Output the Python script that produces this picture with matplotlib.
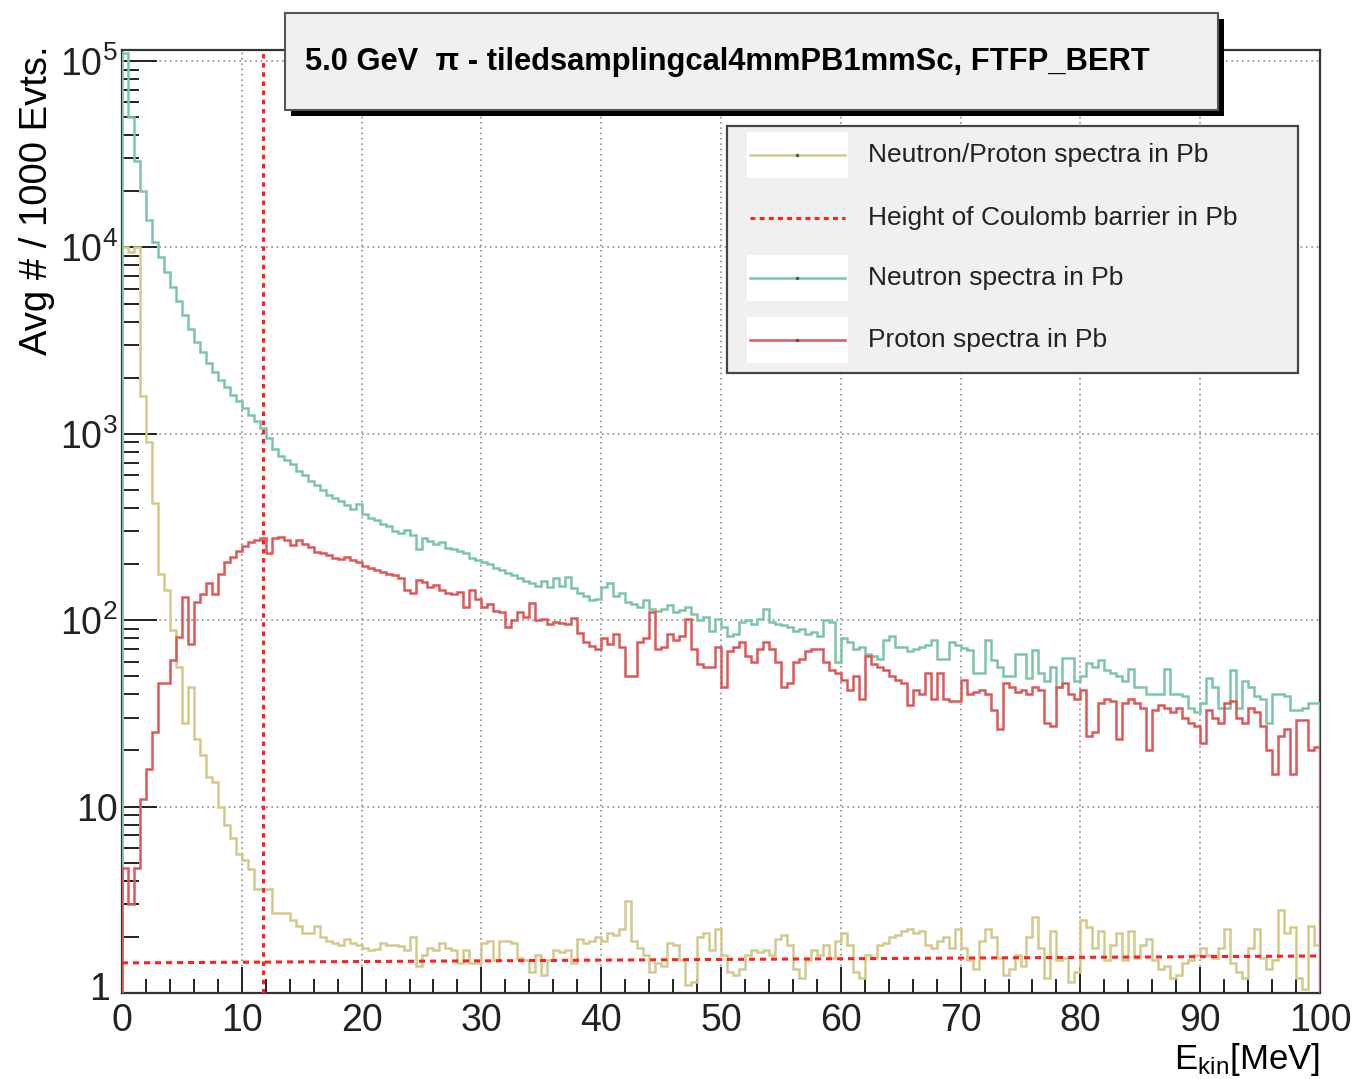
import numpy as np
import matplotlib
matplotlib.use("Agg")
import matplotlib.pyplot as plt
from matplotlib.patches import Rectangle
from matplotlib.lines import Line2D
from matplotlib.transforms import ScaledTranslation

# 0.5 MeV bins from 0 to 100 MeV
bin_lo, bin_hi, bin_w = 0.0, 100.0, 0.5

# neutron / proton spectra (yellow)
ratio = [
    10000, 9500, 10000, 1600, 900, 425, 178, 145, 89, 56,
    28, 44, 23, 19, 14.5, 13.5, 10, 8.0, 6.8, 5.6,
    5.2, 4.6, 3.6, 3.6, 3.6, 2.7, 2.7, 2.7, 2.45, 2.3,
    2.1, 2.1, 2.3, 2.0, 1.9, 1.85, 1.8, 1.95, 1.85, 1.8,
    1.75, 1.7, 1.72, 1.85, 1.8, 1.82, 1.78, 1.7, 2.0, 1.4,
    1.6, 1.75, 1.7, 1.85, 1.75, 1.7, 1.45, 1.7, 1.45, 1.45,
    1.85, 1.9, 1.5, 1.9, 1.9, 1.85, 1.55, 1.5, 1.3, 1.6,
    1.25, 1.5, 1.7, 1.65, 1.7, 1.45, 1.95, 1.85, 1.9, 2.0,
    1.9, 2.1, 2.05, 2.2, 3.1, 1.9, 1.75, 1.6, 1.3, 1.45,
    1.4, 1.85, 1.8, 1.5, 1.1, 1.15, 2.0, 2.1, 1.7, 2.2,
    1.6, 1.3, 1.25, 1.35, 1.6, 1.7, 1.65, 1.7, 1.6, 1.95,
    2.05, 1.8, 1.35, 1.2, 1.5, 1.7, 1.6, 1.8, 1.55, 1.9,
    2.1, 1.8, 1.3, 1.2, 1.6, 1.55, 1.8, 1.85, 2.0, 2.05,
    2.15, 2.2, 2.1, 2.15, 1.8, 1.75, 1.9, 2.0, 1.75, 2.2,
    1.75, 1.5, 1.35, 1.9, 2.2, 2.0, 1.55, 1.25, 1.35, 1.6,
    1.4, 2.0, 2.55, 1.75, 1.2, 2.15, 1.5, 1.55, 1.15, 1.3,
    2.45, 2.25, 1.75, 2.15, 1.5, 1.8, 2.1, 1.5, 2.15, 1.55,
    1.8, 1.95, 1.5, 1.35, 1.4, 1.2, 1.25, 1.45, 1.5, 1.6,
    1.75, 1.6, 1.55, 1.75, 2.2, 1.45, 1.3, 1.2, 1.75, 2.2,
    1.55, 1.35, 1.5, 2.8, 2.1, 2.25, 1.2, 1.05, 2.3, 1.8,
]

# neutron spectra (green)
neutron = [
    110000, 50000, 29000, 20000, 14000, 10700, 8900, 7400, 6150, 5150,
    4350, 3650, 3100, 2750, 2400, 2140, 1950, 1780, 1620, 1500,
    1380, 1260, 1170, 1070, 950, 830, 760, 720, 690, 630,
    600, 560, 530, 500, 470, 450, 435, 415, 395, 420,
    370, 355, 345, 330, 320, 300, 292, 305, 285, 240,
    275, 265, 255, 262, 245, 240, 236, 228, 215, 210,
    205, 200, 190, 186, 180, 175, 168, 163, 158, 152,
    162, 150, 168, 152, 170, 148, 140, 135, 128, 130,
    150, 158, 135, 140, 125, 122, 118, 128, 115, 112,
    115, 120, 110, 113, 118, 108, 100, 104, 88, 102,
    92, 82, 84, 98, 100, 96, 102, 115, 98, 96,
    94, 92, 88, 90, 84, 86, 82, 100, 98, 60,
    80, 76, 70, 72, 66, 64, 62, 78, 82, 72,
    72, 68, 70, 72, 74, 78, 62, 62, 76, 74,
    71, 69, 52, 52, 78, 61, 56, 50, 50, 66,
    66, 49, 69, 52, 47, 56, 44, 63, 63, 47,
    50, 59, 56, 61, 54, 52, 50, 47, 55, 44,
    44, 40, 40, 40, 55, 40, 40, 39, 34, 32,
    36, 49, 44, 34, 34, 54, 34, 47, 44, 39,
    38, 28, 40, 40, 39, 33, 33, 34, 36, 36,
]

# proton spectra (red)
proton = [
    4.7, 3.0, 4.7, 11, 16, 25, 46, 46, 61, 81,
    133, 75, 125, 139, 158, 139, 178, 204, 219, 236,
    250, 262, 270, 275, 229, 275, 278, 270, 252, 268,
    255, 248, 232, 230, 225, 215, 212, 218, 210, 205,
    195, 190, 185, 182, 178, 175, 168, 145, 140, 165,
    160, 150, 155, 145, 140, 138, 142, 118, 145, 130,
    118, 122, 112, 110, 92, 100, 110, 104, 124, 100,
    102, 96, 98, 97, 95, 103, 85, 76, 73, 70,
    80, 75, 84, 72, 50, 50, 76, 80, 110, 70,
    72, 84, 78, 82, 101, 70, 58, 56, 56, 72,
    44, 68, 72, 76, 64, 60, 70, 76, 70, 60,
    44, 46, 60, 62, 68, 70, 70, 60, 54, 52,
    48, 42, 50, 38, 64, 58, 56, 54, 50, 48,
    46, 35, 42, 40, 52, 38, 52, 38, 37, 37,
    48, 40, 41, 42, 40, 33, 26, 46, 44, 41,
    42, 40, 44, 42, 28, 27, 44, 46, 40, 38,
    42, 24, 25, 36, 38, 37, 23, 36, 38, 36,
    34, 20, 33, 35, 34, 32, 34, 30, 28, 27,
    22, 33, 30, 28, 36, 37, 30, 28, 34, 32,
    27, 20, 15, 24, 26, 15, 29, 29, 20, 21,
]

# coulomb barrier marks
barrier_E = 11.8
barrier_line_x = [0, 100]
barrier_line_y = [1.45, 1.58]

title = "5.0 GeV  \u03c0 - tiledsamplingcal4mmPB1mmSc, FTFP_BERT"
labels = ["Neutron/Proton spectra in Pb", "Height of Coulomb barrier in Pb",
          "Neutron spectra in Pb", "Proton spectra in Pb"]

c_ratio = "#d2c98c"
c_neu = "#7cc5a6"
c_pro = "#dd5858"
c_bar = "#ff2020"

plt.rcParams["font.family"] = ["Liberation Sans", "DejaVu Sans"]
plt.rcParams["mathtext.fontset"] = "custom"
plt.rcParams["mathtext.rm"] = "Liberation Sans"
plt.rcParams["mathtext.it"] = "Liberation Sans:italic"
plt.rcParams["mathtext.bf"] = "Liberation Sans:bold"

W, H = 1356, 1079
fx = lambda p: p / W
fy = lambda p: 1 - p / H

fig = plt.figure(figsize=(W / 100, H / 100), dpi=100)
ax = fig.add_axes([fx(122), fy(993), fx(1320) - fx(122), fy(50) - fy(993)])

edges = np.arange(bin_lo, bin_hi + bin_w / 2, bin_w)
ax.stairs(ratio, edges, color=c_ratio, lw=1.8, zorder=3)
ax.stairs(neutron, edges, color=c_neu, lw=1.8, zorder=3)
ax.stairs(proton, edges, color=c_pro, lw=1.8, zorder=4)
ax.plot([barrier_E, barrier_E], [1, 2e5], color=c_bar, lw=2.2,
        linestyle=(0, (1.5, 1.5)), zorder=5)
ax.plot(barrier_line_x, barrier_line_y, color=c_bar, lw=2.2,
        linestyle=(0, (2, 1.6)), zorder=5)

ax.set_yscale("log")
ax.set_xlim(0, 100)
ax.set_ylim(1, 1.146e5)
ax.set_xticks(range(0, 101, 10))
ax.set_xticks(np.arange(0, 101, 2), minor=True)
ax.set_yticks([1, 10, 100, 1e3, 1e4, 1e5])
ax.set_yticklabels(["1", "10", "$10^{2}$", "$10^{3}$", "$10^{4}$", "$10^{5}$"])
ax.set_xticklabels([str(v) for v in range(0, 101, 10)])
ax.tick_params(axis="both", which="both", direction="in", colors="#222222",
               width=1.4, labelsize=27, right=False, top=False)
ax.tick_params(axis="x", which="major", length=19, pad=7)
ax.tick_params(axis="x", which="minor", length=10)
ax.tick_params(axis="y", which="major", length=25, pad=3)
ax.tick_params(axis="y", which="minor", length=12)
ax.grid(True, which="major", color="#8c8c8c", linestyle=(0, (1, 2.2)), lw=1.2)
for s in ax.spines.values():
    s.set_linewidth(1.6)
    s.set_color("#333333")

# lift the "1" label a little and nudge it left so it clears the "0"
lab1 = ax.get_yticklabels()[0]
lab1.set_transform(lab1.get_transform() +
                   ScaledTranslation(-0.08, 0.07, fig.dpi_scale_trans))

fig.text(fx(37), fy(45), "Avg # / 1000 Evts.", rotation=90, fontsize=27.5,
         ha="center", va="top")
fig.text(fx(1320), fy(1059), r"E$_{\mathrm{kin}}$[MeV]", fontsize=25,
         ha="right", va="center")

# title box with shadow
fig.add_artist(Rectangle((fx(291), fy(116)), fx(1224) - fx(291), fy(19) - fy(116),
                         transform=fig.transFigure, facecolor="black",
                         edgecolor="none", zorder=6))
fig.add_artist(Rectangle((fx(285), fy(110)), fx(1218) - fx(285), fy(13) - fy(110),
                         transform=fig.transFigure, facecolor="#f0f0f0",
                         edgecolor="#555555", lw=1.5, zorder=7))
fig.text(fx(305), fy(62), title, fontsize=22.2, fontweight="bold",
         ha="left", va="center", zorder=8)

# legend box
fig.add_artist(Rectangle((fx(727), fy(373)), fx(1298) - fx(727), fy(126) - fy(373),
                         transform=fig.transFigure, facecolor="#f0f0f0",
                         edgecolor="#444444", lw=1.6, zorder=7))
rows = [155, 218, 278, 340]
styles = [(c_ratio, "-"), (c_bar, (0, (1.6, 1.4))), (c_neu, "-"), (c_pro, "-")]
for r, lab, (col, ls) in zip(rows, labels, styles):
    if ls == "-":
        fig.add_artist(Rectangle((fx(747), fy(r + 23)), fx(848) - fx(747),
                                 fy(r - 23) - fy(r + 23),
                                 transform=fig.transFigure, facecolor="white",
                                 edgecolor="none", zorder=8))
        fig.add_artist(Line2D([fx(750), fx(845)], [fy(r), fy(r)], color=col,
                              lw=1.8, transform=fig.transFigure, zorder=9))
        fig.add_artist(Line2D([fx(797)], [fy(r)], color="#555555", marker="o",
                              ms=1.5, transform=fig.transFigure, zorder=10))
    else:
        fig.add_artist(Line2D([fx(750), fx(845)], [fy(r), fy(r)], color=col,
                              lw=2.2, linestyle=ls, transform=fig.transFigure,
                              zorder=9))
    fig.text(fx(868), fy(r), lab, fontsize=19, ha="left", va="center",
             color="#222222", zorder=9)

fig.savefig("out.png", dpi=100)
